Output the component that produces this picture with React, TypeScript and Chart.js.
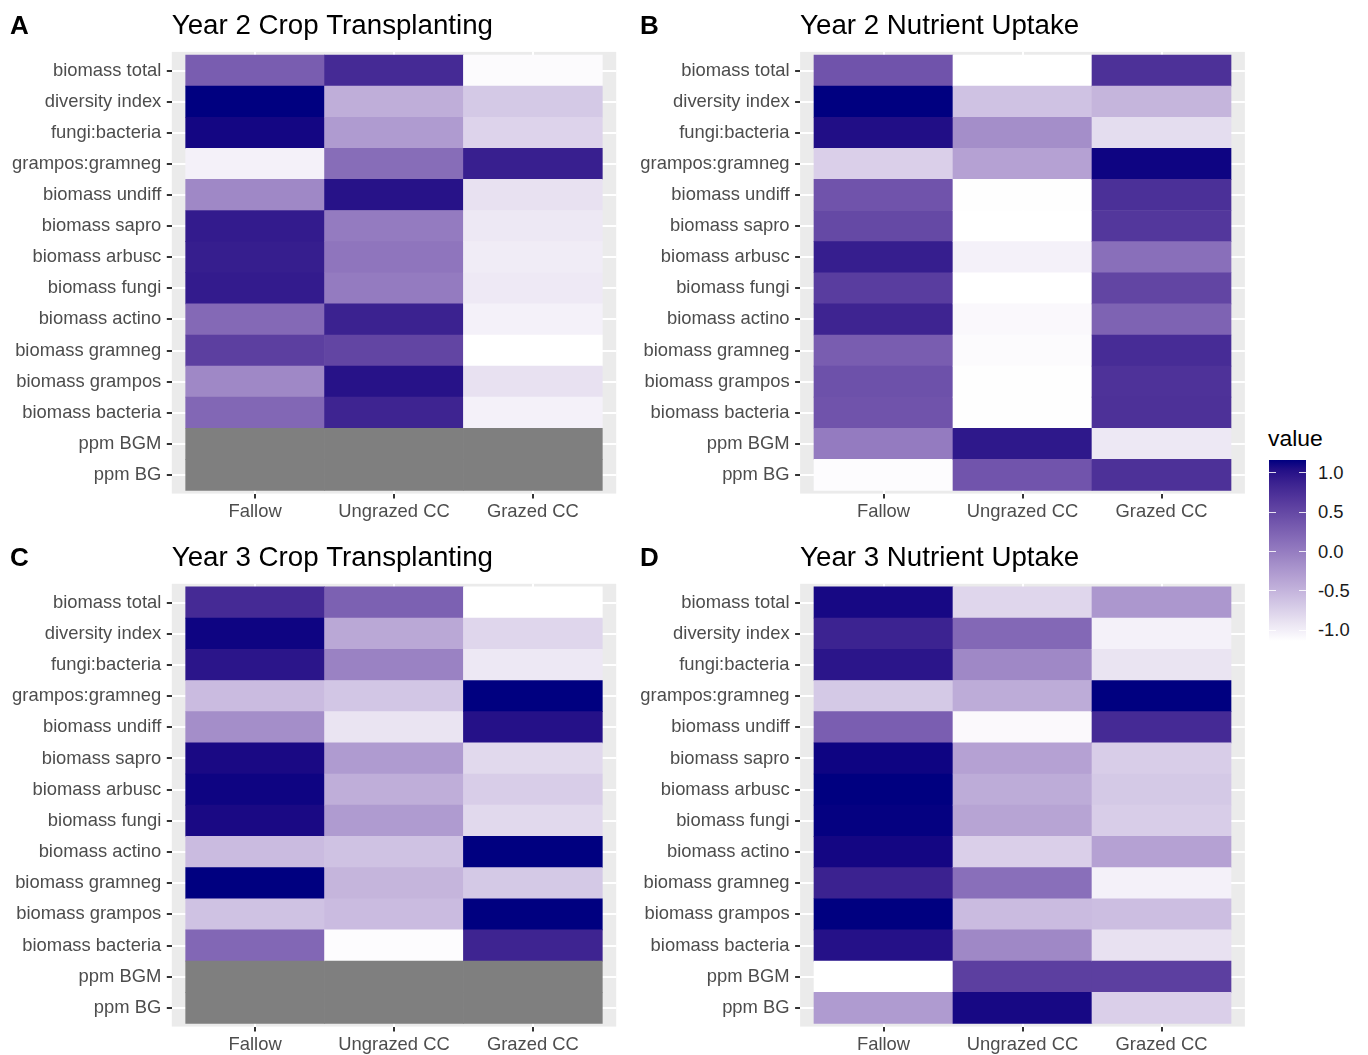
import React, { useEffect, useRef } from 'react';
import { Chart, registerables } from 'chart.js';

Chart.register(...registerables);

const FONT = "'Liberation Sans', Arial, Helvetica, sans-serif";

// ---------- data ----------
const rowLabels = [
  'biomass total', 'diversity index', 'fungi:bacteria', 'grampos:gramneg',
  'biomass undiff', 'biomass sapro', 'biomass arbusc', 'biomass fungi',
  'biomass actino', 'biomass gramneg', 'biomass grampos', 'biomass bacteria',
  'ppm BGM', 'ppm BG',
];
const colLabels = ['Fallow', 'Ungrazed CC', 'Grazed CC'];
const panelTitles = [
  'Year 2 Crop Transplanting', 'Year 2 Nutrient Uptake',
  'Year 3 Crop Transplanting', 'Year 3 Nutrient Uptake',
];
const panelLetters = ['A', 'B', 'C', 'D'];
const legendTickValues = [1.0, 0.5, 0.0, -0.5, -1.0];
const legendTickLabels = ['1.0', '0.5', '0.0', '-0.5', '-1.0'];

// Year 2 Crop Transplanting
const y2TransFallow = [0.25, 1.0, 0.95, -0.9, -0.1, 0.8, 0.78, 0.8, 0.15, 0.5, -0.1, 0.17, null, null];
const y2TransUngrazed = [0.68, -0.4, -0.25, 0.12, 0.87, 0.0, 0.05, 0.0, 0.75, 0.45, 0.87, 0.73, null, null];
const y2TransGrazed = [-0.97, -0.6, -0.68, 0.77, -0.78, -0.83, -0.86, -0.84, -0.9, -1.0, -0.78, -0.9, null, null];
// Year 2 Nutrient Uptake
const y2NutFallow = [0.33, 1.0, 0.9, -0.65, 0.33, 0.42, 0.78, 0.52, 0.73, 0.25, 0.35, 0.33, 0.0, -0.98];
const y2NutUngrazed = [-1.0, -0.55, -0.15, -0.3, -0.99, -1.0, -0.9, -1.0, -0.95, -0.97, -0.99, -0.99, 0.83, 0.32];
const y2NutGrazed = [0.62, -0.45, -0.75, 0.97, 0.63, 0.57, 0.1, 0.45, 0.2, 0.66, 0.61, 0.62, -0.83, 0.62];
// Year 3 Crop Transplanting
const y3TransFallow = [0.68, 0.97, 0.85, -0.5, -0.15, 0.93, 0.97, 0.93, -0.5, 1.0, -0.55, 0.17, null, null];
const y3TransUngrazed = [0.22, -0.35, -0.05, -0.58, -0.8, -0.25, -0.4, -0.25, -0.55, -0.45, -0.5, -0.98, null, null];
const y3TransGrazed = [-1.0, -0.7, -0.83, 1.0, 0.88, -0.72, -0.63, -0.72, 1.0, -0.6, 1.0, 0.73, null, null];
// Year 3 Nutrient Uptake
const y3NutFallow = [0.94, 0.74, 0.85, -0.6, 0.24, 0.97, 1.0, 0.99, 0.95, 0.75, 1.0, 0.88, -1.0, -0.25];
const y3NutUngrazed = [-0.7, 0.16, -0.1, -0.38, -0.96, -0.3, -0.38, -0.32, -0.65, 0.1, -0.5, -0.1, 0.5, 0.94];
const y3NutGrazed = [-0.22, -0.9, -0.8, 1.0, 0.68, -0.63, -0.6, -0.63, -0.3, -0.9, -0.52, -0.78, 0.5, -0.65];

// ---------- colour scale (white -> navy, Lab interpolation) ----------
const LOW_RGB = [255, 255, 255];
const HIGH_RGB = [0, 0, 128];
const NA_COLOR = '#7F7F7F';

function srgbToLinear(c: number) {
  const v = c / 255;
  return v <= 0.04045 ? v / 12.92 : Math.pow((v + 0.055) / 1.055, 2.4);
}
function linearToSrgb(c: number) {
  const x = Math.max(0, Math.min(1, c));
  const v = x <= 0.0031308 ? 12.92 * x : 1.055 * Math.pow(x, 1 / 2.4) - 0.055;
  return Math.round(Math.max(0, Math.min(1, v)) * 255);
}
const D = 6 / 29;
function fLab(t: number) {
  return t > D * D * D ? Math.cbrt(t) : t / (3 * D * D) + 4 / 29;
}
function fLabInv(t: number) {
  return t > D ? t * t * t : 3 * D * D * (t - 4 / 29);
}
function toLab(rgb: number[]) {
  const [r, g, b] = rgb.map(srgbToLinear);
  const X = (0.4124564 * r + 0.3575761 * g + 0.1804375 * b) / 0.95047;
  const Y = 0.2126729 * r + 0.7151522 * g + 0.072175 * b;
  const Z = (0.0193339 * r + 0.119192 * g + 0.9503041 * b) / 1.08883;
  const fx = fLab(X), fy = fLab(Y), fz = fLab(Z);
  return [116 * fy - 16, 500 * (fx - fy), 200 * (fy - fz)];
}
function fromLab(lab: number[]) {
  const [L, a, b] = lab;
  const fy = (L + 16) / 116;
  const fx = fy + a / 500;
  const fz = fy - b / 200;
  const X = 0.95047 * fLabInv(fx);
  const Y = fLabInv(fy);
  const Z = 1.08883 * fLabInv(fz);
  const r = 3.2404542 * X - 1.5371385 * Y - 0.4985314 * Z;
  const g = -0.969266 * X + 1.8760108 * Y + 0.041556 * Z;
  const bl = 0.0556434 * X - 0.2040259 * Y + 1.0572252 * Z;
  return `rgb(${linearToSrgb(r)},${linearToSrgb(g)},${linearToSrgb(bl)})`;
}
const LOW_LAB = toLab(LOW_RGB);
const HIGH_LAB = toLab(HIGH_RGB);
function colorAt(t: number) {
  const u = Math.max(0, Math.min(1, t));
  return fromLab(LOW_LAB.map((v, i) => v + (HIGH_LAB[i] - v) * u));
}
function fillColor(v: number | null) {
  return v === null || v === undefined ? NA_COLOR : colorAt((v + 1) / 2);
}

// ---------- panel layout ----------
type PanelDef = {
  letter: string;
  title: string;
  cols: (number | null)[][];
  left: number; top: number; w: number; h: number;
  area: { l: number; r: number; t: number; b: number };
};

const panels: PanelDef[] = [
  { letter: panelLetters[0], title: panelTitles[0], cols: [y2TransFallow, y2TransUngrazed, y2TransGrazed],
    left: 0, top: 0, w: 630, h: 530, area: { l: 171.8, r: 616.2, t: 51.9, b: 493.6 } },
  { letter: panelLetters[1], title: panelTitles[1], cols: [y2NutFallow, y2NutUngrazed, y2NutGrazed],
    left: 630, top: 0, w: 630, h: 530, area: { l: 800.1, r: 1244.9, t: 51.9, b: 493.6 } },
  { letter: panelLetters[2], title: panelTitles[2], cols: [y3TransFallow, y3TransUngrazed, y3TransGrazed],
    left: 0, top: 530, w: 630, h: 525, area: { l: 171.8, r: 616.2, t: 583.8, b: 1026.6 } },
  { letter: panelLetters[3], title: panelTitles[3], cols: [y3NutFallow, y3NutUngrazed, y3NutGrazed],
    left: 630, top: 530, w: 630, h: 525, area: { l: 800.1, r: 1244.9, t: 583.8, b: 1026.6 } },
];

const AXIS_FONT_SIZE = 18.4;
const TITLE_FONT_SIZE = 27.7;

const heatDecor = {
  id: 'heatDecor',
  beforeDraw(chart: any) {
    const { ctx, chartArea } = chart;
    ctx.save();
    ctx.fillStyle = '#EBEBEB';
    ctx.fillRect(chartArea.left, chartArea.top, chartArea.right - chartArea.left, chartArea.bottom - chartArea.top);
    ctx.restore();
  },
  afterDraw(chart: any, _args: any, opts: any) {
    const { ctx } = chart;
    ctx.save();
    ctx.font = `bold 26px ${FONT}`;
    ctx.fillStyle = '#000000';
    ctx.textAlign = 'left';
    ctx.textBaseline = 'alphabetic';
    ctx.fillText(opts.letter, 10, opts.baseline);
    ctx.restore();
  },
};

function HeatPanel({ def }: { def: PanelDef }) {
  const ref = useRef<HTMLCanvasElement | null>(null);
  useEffect(() => {
    const canvas = ref.current;
    if (!canvas) return;
    const a = def.area;
    const yAxisW = a.l - def.left;
    const padRight = def.left + def.w - a.r;
    const titleH = a.t - def.top;
    const xAxisH = def.top + def.h - a.b;
    const titleLH = TITLE_FONT_SIZE * 1.2;
    const titleBaseline = titleH - 17.8;
    const titleMid = titleBaseline - 0.35 * TITLE_FONT_SIZE + 2;
    const pt = titleMid - titleLH / 2;
    const pb = titleH - pt - titleLH;

    const points: any[] = [];
    const colors: string[] = [];
    def.cols.forEach((col, ci) => {
      col.forEach((v, ri) => {
        points.push({ x: ci + 1, y: [ri + 0.5, ri + 1.5] });
        colors.push(fillColor(v));
      });
    });

    const tickFont = { family: FONT, size: AXIS_FONT_SIZE };
    const chart = new Chart(canvas, {
      type: 'bar',
      data: {
        datasets: [{
          data: points,
          backgroundColor: colors,
          borderWidth: 0,
          barPercentage: 1,
          categoryPercentage: 1,
        }],
      },
      options: {
        responsive: false,
        animation: false,
        events: [],
        indexAxis: 'x',
        layout: { padding: { left: 0, right: padRight, top: 0, bottom: 0 } },
        plugins: {
          legend: { display: false },
          tooltip: { enabled: false },
          title: {
            display: true,
            text: def.title,
            align: 'start',
            fullSize: false,
            color: '#000000',
            font: { family: FONT, size: TITLE_FONT_SIZE, weight: 'normal', lineHeight: 1.2 },
            padding: { top: pt, bottom: pb },
          },
          heatDecor: { letter: def.letter, baseline: titleBaseline },
        },
        scales: {
          x: {
            type: 'linear',
            offset: false,
            min: 0.4,
            max: colLabels.length + 0.6,
            afterBuildTicks: (s: any) => { s.ticks = colLabels.map((_, i) => ({ value: i + 1 })); },
            afterFit: (s: any) => { s.height = xAxisH; },
            ticks: {
              callback: (v: any) => colLabels[Math.round(Number(v)) - 1] ?? '',
              color: '#4D4D4D',
              font: tickFont,
              padding: 2,
              autoSkip: false,
              maxRotation: 0,
            },
            grid: { offset: false, color: '#FFFFFF', lineWidth: 2, drawTicks: true, tickLength: 5, tickColor: '#333333', tickWidth: 2 },
            border: { display: false },
          },
          y: {
            type: 'linear',
            offset: false,
            beginAtZero: false,
            reverse: true,
            min: 0.4,
            max: rowLabels.length + 0.6,
            afterBuildTicks: (s: any) => { s.ticks = rowLabels.map((_, i) => ({ value: i + 1 })); },
            afterFit: (s: any) => { s.width = yAxisW; },
            ticks: {
              callback: (v: any) => rowLabels[Math.round(Number(v)) - 1] ?? '',
              color: '#4D4D4D',
              font: tickFont,
              padding: 5.5,
              autoSkip: false,
            },
            grid: { offset: false, color: '#FFFFFF', lineWidth: 2, drawTicks: true, tickLength: 5, tickColor: '#333333', tickWidth: 2 },
            border: { display: false },
          },
        },
      } as any,
      plugins: [heatDecor as any],
    });
    return () => chart.destroy();
  }, [def]);

  return (
    <canvas
      ref={ref}
      width={def.w}
      height={def.h}
      style={{ position: 'absolute', left: def.left, top: def.top, width: def.w, height: def.h, display: 'block' }}
    />
  );
}

function Legend() {
  const barTop = 459.5;
  const barBottom = 641;
  const barLeft = 1268.5;
  const barW = 37;
  const stops: string[] = [];
  for (let i = 0; i <= 20; i++) stops.push(`${colorAt(i / 20)} ${i * 5}%`);
  const yFor = (v: number) => 551.5 - 78.7 * v;
  return (
    <>
      <div style={{ position: 'absolute', left: 1268, top: 426.6, font: `22.9px ${FONT}`, lineHeight: '22.9px', color: '#000', whiteSpace: 'nowrap' }}>value</div>
      <div style={{ position: 'absolute', left: barLeft, top: barTop, width: barW, height: barBottom - barTop, background: `linear-gradient(to top, ${stops.join(', ')})` }} />
      {legendTickValues.map((v, i) => {
        const y = yFor(v);
        return (
          <React.Fragment key={legendTickLabels[i]}>
            <div style={{ position: 'absolute', left: barLeft, top: y - 0.5, width: 7, height: 1, background: 'rgba(255,255,255,0.85)' }} />
            <div style={{ position: 'absolute', left: barLeft + barW - 7, top: y - 0.5, width: 7, height: 1, background: 'rgba(255,255,255,0.85)' }} />
            <div style={{ position: 'absolute', left: 1318, top: y - 8.95, font: `18.4px ${FONT}`, lineHeight: '18.4px', color: '#1a1a1a', whiteSpace: 'nowrap' }}>{legendTickLabels[i]}</div>
          </React.Fragment>
        );
      })}
    </>
  );
}

export default function App() {
  return (
    <div style={{ position: 'absolute', left: 0, top: 0, width: 1368, height: 1055, background: '#FFFFFF', overflow: 'hidden', fontFamily: FONT }}>
      {panels.map((p) => <HeatPanel key={p.letter} def={p} />)}
      <Legend />
    </div>
  );
}
